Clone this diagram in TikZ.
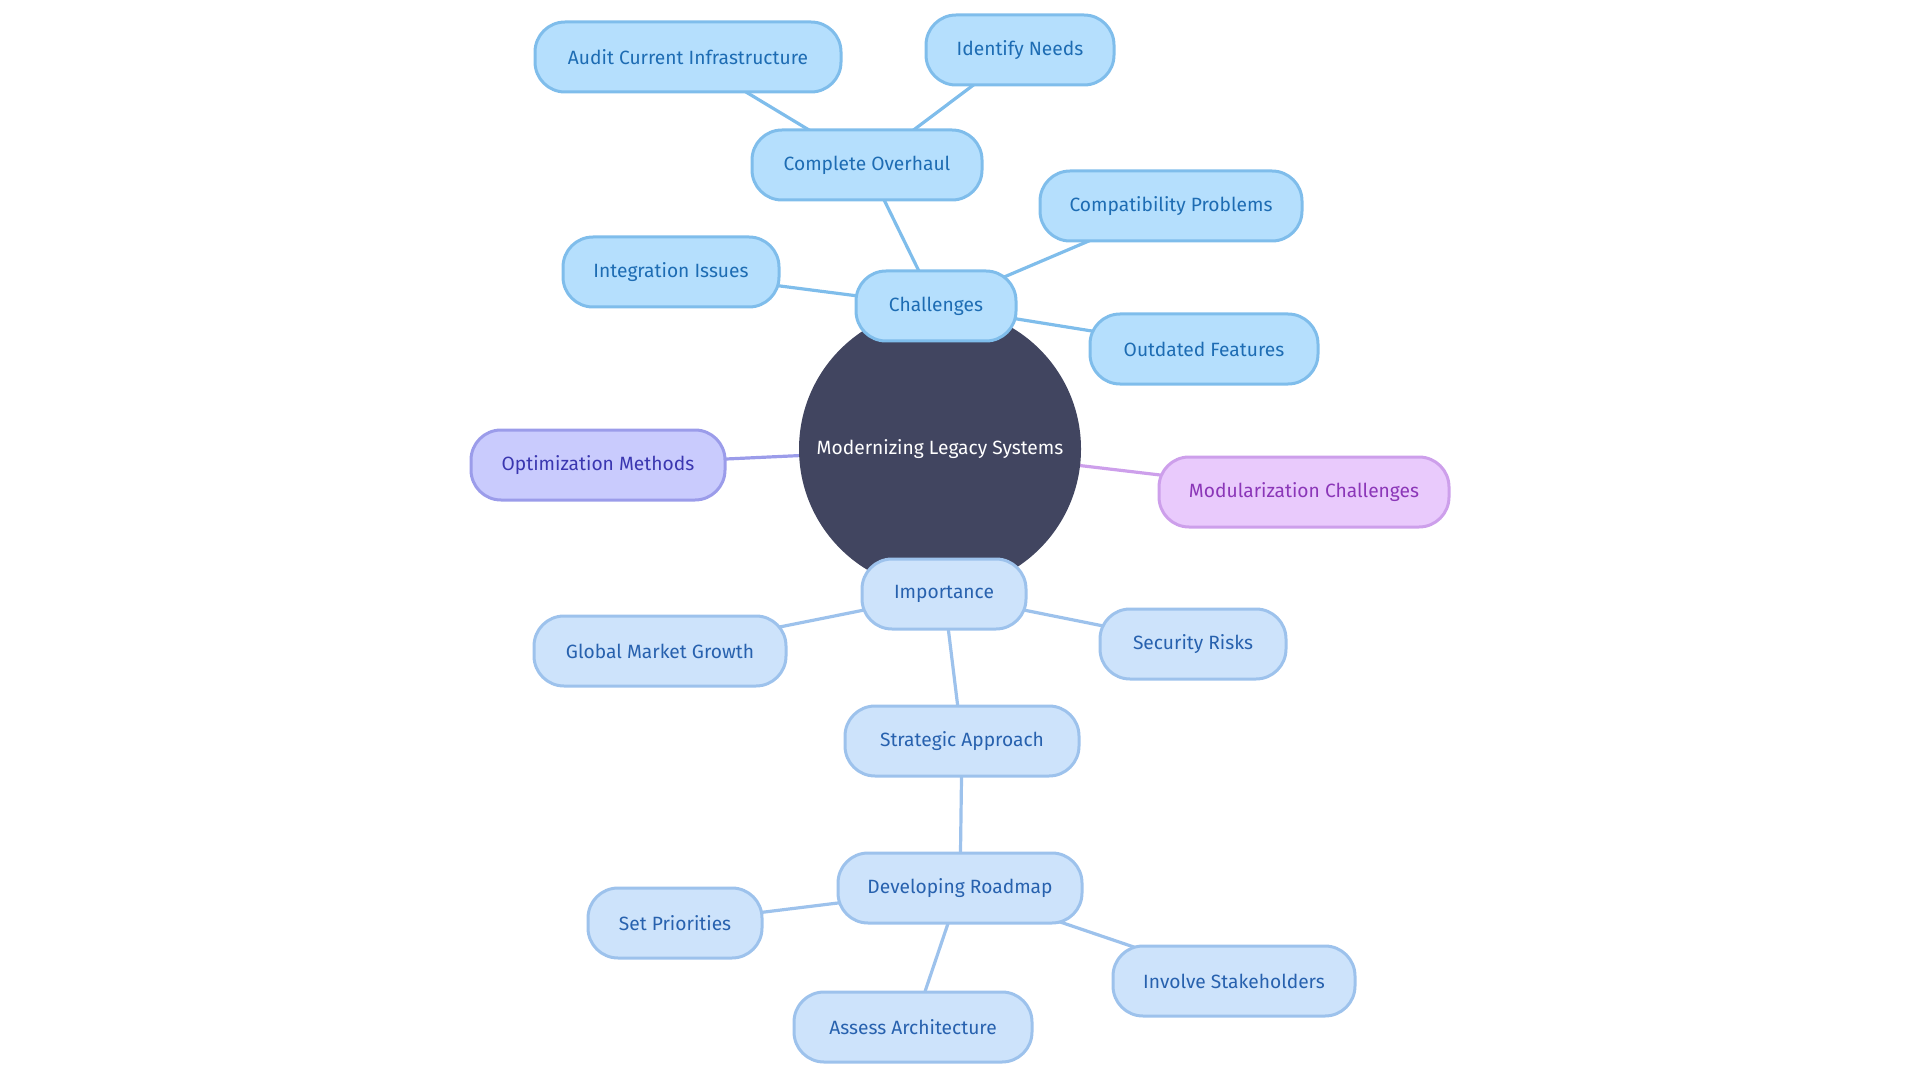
\documentclass[tikz,border=0pt]{standalone}
\usepackage{fontspec}
\setmainfont{Fira Sans}
\usetikzlibrary{backgrounds}

\definecolor{hubfill}{HTML}{414560}
\definecolor{chfill}{HTML}{B5DFFD}
\definecolor{chline}{HTML}{7FBDEB}
\definecolor{chtext}{HTML}{1D6CB3}
\definecolor{imfill}{HTML}{CDE3FB}
\definecolor{imline}{HTML}{9DC2EC}
\definecolor{imtext}{HTML}{2761AE}
\definecolor{opfill}{HTML}{C9CBFD}
\definecolor{opline}{HTML}{9B9CEA}
\definecolor{optext}{HTML}{3A36B0}
\definecolor{mofill}{HTML}{E9CAFC}
\definecolor{moline}{HTML}{CD9FEB}
\definecolor{motext}{HTML}{8B36B8}

\begin{document}
\begin{tikzpicture}[
    x=0.5pt, y=-0.5pt,
    hub/.style={circle, fill=hubfill, text=white, minimum size=141pt, inner sep=0pt, font=\fontsize{9.6}{11}\selectfont},
    leaf/.style={rectangle, rounded corners=15pt, line width=1.5pt, minimum height=35pt, inner xsep=4pt, text centered, font=\fontsize{9.6}{11}\selectfont},
    chbox/.style={leaf, fill=chfill, draw=chline, text=chtext},
    imbox/.style={leaf, fill=imfill, draw=imline, text=imtext},
    opbox/.style={leaf, fill=opfill, draw=opline, text=optext},
    mobox/.style={leaf, fill=mofill, draw=moline, text=motext},
    link/.style={line width=1.6pt},
]
    \useasboundingbox (0,0) rectangle (1920,1080);

    % --- Centre ---
    \node[hub] (hub) at (940,449) {Modernizing Legacy Systems};

    % --- Challenges branch ---
    \node[chbox, minimum width=80pt] (chal) at (936,306) {Challenges};
    \node[chbox, minimum width=115pt] (over) at (867,165) {Complete Overhaul};
    \node[chbox, minimum width=153pt] (audit) at (688,57) {Audit Current Infrastructure};
    \node[chbox, minimum width=94pt] (needs) at (1020,50) {Identify Needs};
    \node[chbox, minimum width=131pt] (compat) at (1171,206) {Compatibility Problems};
    \node[chbox, minimum width=108pt] (integ) at (671,272) {Integration Issues};
    \node[chbox, minimum width=114pt] (outd) at (1204,349) {Outdated Features};

    % --- Side branches ---
    \node[opbox, minimum width=127pt] (optim) at (598,465) {Optimization Methods};
    \node[mobox, minimum width=145pt] (modul) at (1304,492) {Modularization Challenges};

    % --- Importance branch ---
    \node[imbox, minimum width=82pt] (impo) at (944,594) {Importance};
    \node[imbox, minimum width=126pt] (glob) at (660,651) {Global Market Growth};
    \node[imbox, minimum width=93pt] (secu) at (1193,644) {Security Risks};
    \node[imbox, minimum width=117pt] (strat) at (962,741) {Strategic Approach};
    \node[imbox, minimum width=122pt] (road) at (960,888) {Developing Roadmap};
    \node[imbox, minimum width=87pt] (prio) at (675,923) {Set Priorities};
    \node[imbox, minimum width=119pt] (arch) at (913,1027) {Assess Architecture};
    \node[imbox, minimum width=121pt] (stake) at (1234,981) {Involve Stakeholders};

    % --- Links (centre to centre, under the boxes) ---
    \begin{scope}[on background layer]
        \draw[link, draw=chline] (hub.center) -- (chal.center);
        \draw[link, draw=chline] (chal.center) -- (over.center);
        \draw[link, draw=chline] (over.center) -- (audit.center);
        \draw[link, draw=chline] (over.center) -- (needs.center);
        \draw[link, draw=chline] (chal.center) -- (compat.center);
        \draw[link, draw=chline] (chal.center) -- (integ.center);
        \draw[link, draw=chline] (chal.center) -- (outd.center);
        \draw[link, draw=opline] (hub.center) -- (optim.center);
        \draw[link, draw=moline] (hub.center) -- (modul.center);
        \draw[link, draw=imline] (hub.center) -- (impo.center);
        \draw[link, draw=imline] (impo.center) -- (glob.center);
        \draw[link, draw=imline] (impo.center) -- (secu.center);
        \draw[link, draw=imline] (impo.center) -- (strat.center);
        \draw[link, draw=imline] (strat.center) -- (road.center);
        \draw[link, draw=imline] (road.center) -- (prio.center);
        \draw[link, draw=imline] (road.center) -- (arch.center);
        \draw[link, draw=imline] (road.center) -- (stake.center);
    \end{scope}
\end{tikzpicture}
\end{document}
